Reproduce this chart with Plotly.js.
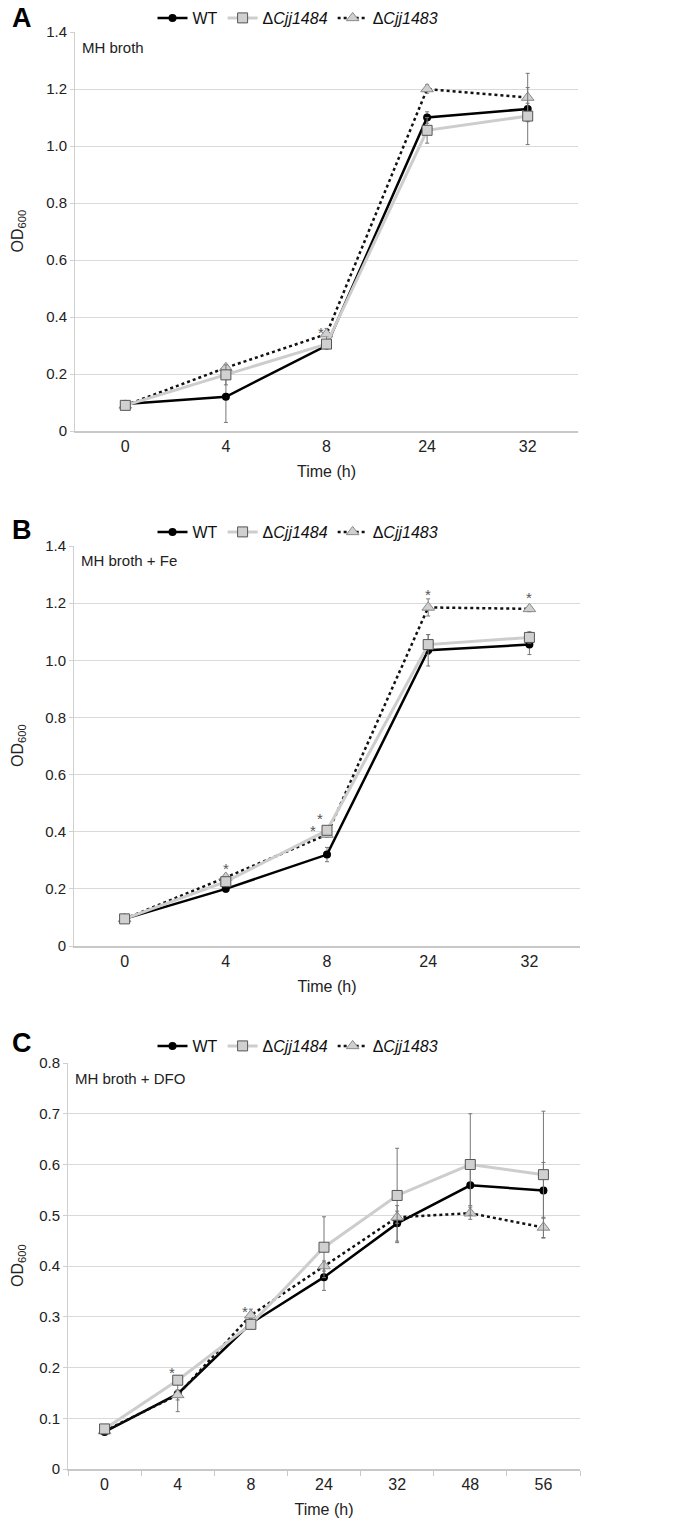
<!DOCTYPE html>
<html>
<head>
<meta charset="utf-8">
<script src="https://cdn.plot.ly/plotly-3.0.1.min.js"></script>
<style>html,body{margin:0;padding:0;background:#fff;} #chart{width:680px;height:1531px;}</style>
</head>
<body>
<div id="chart"></div>
<script>
// ---------- DATA ----------
const seriesNames = ['WT', 'Δ<i>Cjj1484</i>', 'Δ<i>Cjj1483</i>'];

// Panel A: MH broth
const timeA = ['0', '4', '8', '24', '32'];
const wtA = [0.095, 0.12, 0.30, 1.10, 1.13];
const d1484A = [0.09, 0.197, 0.305, 1.055, 1.105];
const d1483A = [0.09, 0.222, 0.34, 1.20, 1.17];
const wtErrA = [0.005, 0.09, 0.01, 0.02, 0.02];
const d1484ErrA = [0.005, 0.035, 0.01, 0.045, 0.10];
const d1483ErrA = [0.005, 0.01, 0.02, 0.015, 0.085];
const starXA = ['8'];
const starYA = [0.36];

// Panel B: MH broth + Fe
const timeB = ['0', '4', '8', '24', '32'];
const wtB = [0.095, 0.20, 0.32, 1.035, 1.055];
const d1484B = [0.095, 0.225, 0.405, 1.055, 1.08];
const d1483B = [0.095, 0.24, 0.39, 1.185, 1.18];
const wtErrB = [0.005, 0.012, 0.025, 0.055, 0.035];
const d1484ErrB = [0.005, 0.01, 0.01, 0.035, 0.02];
const d1483ErrB = [0.005, 0.01, 0.01, 0.03, 0.01];
const starXB = ['4', '8', '8', '24', '32'];
const starYB = [0.285, 0.42, 0.46, 1.245, 1.235];

// Panel C: MH broth + DFO
const timeC = ['0', '4', '8', '24', '32', '48', '56'];
const wtC = [0.073, 0.148, 0.287, 0.378, 0.484, 0.559, 0.549];
const d1484C = [0.079, 0.175, 0.285, 0.437, 0.539, 0.60, 0.58];
const d1483C = [0.075, 0.146, 0.303, 0.40, 0.496, 0.504, 0.476];
const wtErrC = [0.004, 0.035, 0.01, 0.026, 0.035, 0.04, 0.055];
const d1484ErrC = [0.004, 0.006, 0.008, 0.06, 0.093, 0.10, 0.125];
const d1483ErrC = [0.004, 0.01, 0.012, 0.01, 0.012, 0.012, 0.02];
const starXC = ['4', '8'];
const starYC = [0.199, 0.319];

const panelLetters = ['A', 'B', 'C'];
const conditions = ['MH broth', 'MH broth + Fe', 'MH broth + DFO'];

// ---------- LAYOUT GEOMETRY (pixels) ----------
const W = 680, H = 1531;
const FONT = '"Liberation Sans Narrow", "Arial Narrow", "Liberation Sans", Arial, sans-serif';
const panels = [
  {x: timeA, wt: wtA, a: d1484A, b: d1483A, ewt: wtErrA, ea: d1484ErrA, eb: d1483ErrA, sx: starXA, sy: starYA,
   left: 75, right: 578, top: 32, bottom: 431, ymax: 1.4, dtick: 0.2, legendY: 18, letterY: 18, boundaries: false},
  {x: timeB, wt: wtB, a: d1484B, b: d1483B, ewt: wtErrB, ea: d1484ErrB, eb: d1483ErrB, sx: starXB, sy: starYB,
   left: 74, right: 580, top: 546, bottom: 946, ymax: 1.4, dtick: 0.2, legendY: 532, letterY: 530, boundaries: false},
  {x: timeC, wt: wtC, a: d1484C, b: d1483C, ewt: wtErrC, ea: d1484ErrC, eb: d1483ErrC, sx: starXC, sy: starYC,
   left: 68, right: 580, top: 1063, bottom: 1469, ymax: 0.8, dtick: 0.1, legendY: 1046, letterY: 1043, boundaries: true}
];

const px = v => v / W;
const py = v => 1 - v / H;

const traces = [];
const annotations = [];
const layout = {
  width: W, height: H,
  margin: {l: 0, r: 0, t: 0, b: 0},
  paper_bgcolor: '#fff', plot_bgcolor: '#fff',
  font: {family: FONT, size: 14, color: '#222'},
  showlegend: true,
  annotations: annotations
};

const errStyle = {type: 'data', visible: true, color: '#777', thickness: 1, width: 2};

panels.forEach((p, i) => {
  const n = i === 0 ? '' : String(i + 1);
  const xa = 'x' + n, ya = 'y' + n;
  const legendId = i === 0 ? 'legend' : 'legend' + (i + 1);

  // draw order: WT, Δ1483, Δ1484 ; legend ranks keep WT, Δ1484, Δ1483
  traces.push({
    type: 'scatter', mode: 'lines+markers', x: p.x, y: p.wt, xaxis: xa, yaxis: ya,
    name: seriesNames[0], legend: legendId, legendrank: 1,
    line: {color: '#000', width: 2.5},
    marker: {symbol: 'circle', size: 8, color: '#000'},
    error_y: Object.assign({array: p.ewt}, errStyle)
  });
  traces.push({
    type: 'scatter', mode: 'lines+markers', x: p.x, y: p.b, xaxis: xa, yaxis: ya,
    name: seriesNames[2], legend: legendId, legendrank: 3,
    line: {color: '#111', width: 2.5, dash: 'dot'},
    marker: {symbol: 'triangle-up', size: 11, color: '#cfcfcf', line: {color: '#8a8a8a', width: 1}},
    error_y: Object.assign({array: p.eb}, errStyle)
  });
  traces.push({
    type: 'scatter', mode: 'lines+markers', x: p.x, y: p.a, xaxis: xa, yaxis: ya,
    name: seriesNames[1], legend: legendId, legendrank: 2,
    line: {color: '#cdcdcd', width: 3},
    marker: {symbol: 'square', size: 10, color: '#d0d0d0', line: {color: '#555', width: 1}},
    error_y: Object.assign({array: p.ea}, errStyle)
  });

  layout['xaxis' + n] = {
    domain: [px(p.left), px(p.right)], anchor: ya, type: 'category',
    categoryorder: 'array', categoryarray: p.x,
    range: [-0.5, p.x.length - 0.5], autorange: false,
    tickmode: 'array', tickvals: p.x, ticktext: p.x,
    showgrid: false, showline: true, linecolor: '#c8c8c8', linewidth: 1.5,
    ticks: p.boundaries ? 'outside' : '', tickson: p.boundaries ? 'boundaries' : 'labels',
    ticklen: 5, tickcolor: '#c8c8c8',
    tickfont: {family: FONT, size: 16, color: '#222'},
    title: {text: 'Time (h)', font: {family: FONT, size: 16, color: '#222'}, standoff: 12},
    fixedrange: true, zeroline: false
  };
  const tv = [], tt = [];
  for (let k = 0; k <= Math.round(p.ymax / p.dtick); k++) {
    const v = +(k * p.dtick).toFixed(2);
    tv.push(v); tt.push(k === 0 ? '0' : v.toFixed(1));
  }
  layout['yaxis' + n] = {
    domain: [py(p.bottom), py(p.top)], anchor: xa,
    range: [0, p.ymax], autorange: false,
    tickmode: 'array', tickvals: tv, ticktext: tt,
    showgrid: true, gridcolor: '#d9d9d9', gridwidth: 1,
    showline: true, linecolor: '#d0d0d0', linewidth: 1,
    ticks: 'outside', ticklen: 4, tickcolor: '#d0d0d0',
    tickfont: {family: FONT, size: 15, color: '#222'},
    zeroline: false, fixedrange: true
  };

  layout[legendId] = {
    orientation: 'h', x: px(298), xanchor: 'center', y: py(p.legendY), yanchor: 'middle',
    font: {family: FONT, size: 16, color: '#111'}, bgcolor: 'rgba(0,0,0,0)',
    itemwidth: 30, traceorder: 'normal'
  };

  // panel letter
  annotations.push({xref: 'paper', yref: 'paper', x: px(10), y: py(p.letterY), xanchor: 'left', yanchor: 'middle',
    text: '<b>' + panelLetters[i] + '</b>', showarrow: false, font: {family: 'Liberation Sans, Arial, sans-serif', size: 27, color: '#000'}});
  // condition label
  annotations.push({xref: 'paper', yref: 'paper', x: px(p.left + 5), y: py(p.top + 15), xanchor: 'left', yanchor: 'middle',
    text: conditions[i], showarrow: false, font: {family: FONT, size: 15, color: '#222'}});
  // OD600 title
  annotations.push({xref: 'paper', yref: 'paper', x: px(18), y: py((p.top + p.bottom) / 2), xanchor: 'center', yanchor: 'middle',
    text: 'OD<sub>600</sub>', textangle: -90, showarrow: false, font: {family: FONT, size: 16, color: '#222'}});
  // significance asterisks (x given as category index)
  p.sx.forEach((sx, k) => {
    annotations.push({xref: xa, yref: ya, x: p.x.indexOf(sx), y: p.sy[k], text: '*', showarrow: false,
      xshift: (i === 1 && sx === '8') ? (k === 1 ? -14 : -7) : (i === 1 ? 0 : -6), yshift: -4,
      font: {family: FONT, size: 15, color: '#555'}});
  });
});

Plotly.newPlot('chart', traces, layout, {staticPlot: true, displayModeBar: false});
</script>
</body>
</html>
